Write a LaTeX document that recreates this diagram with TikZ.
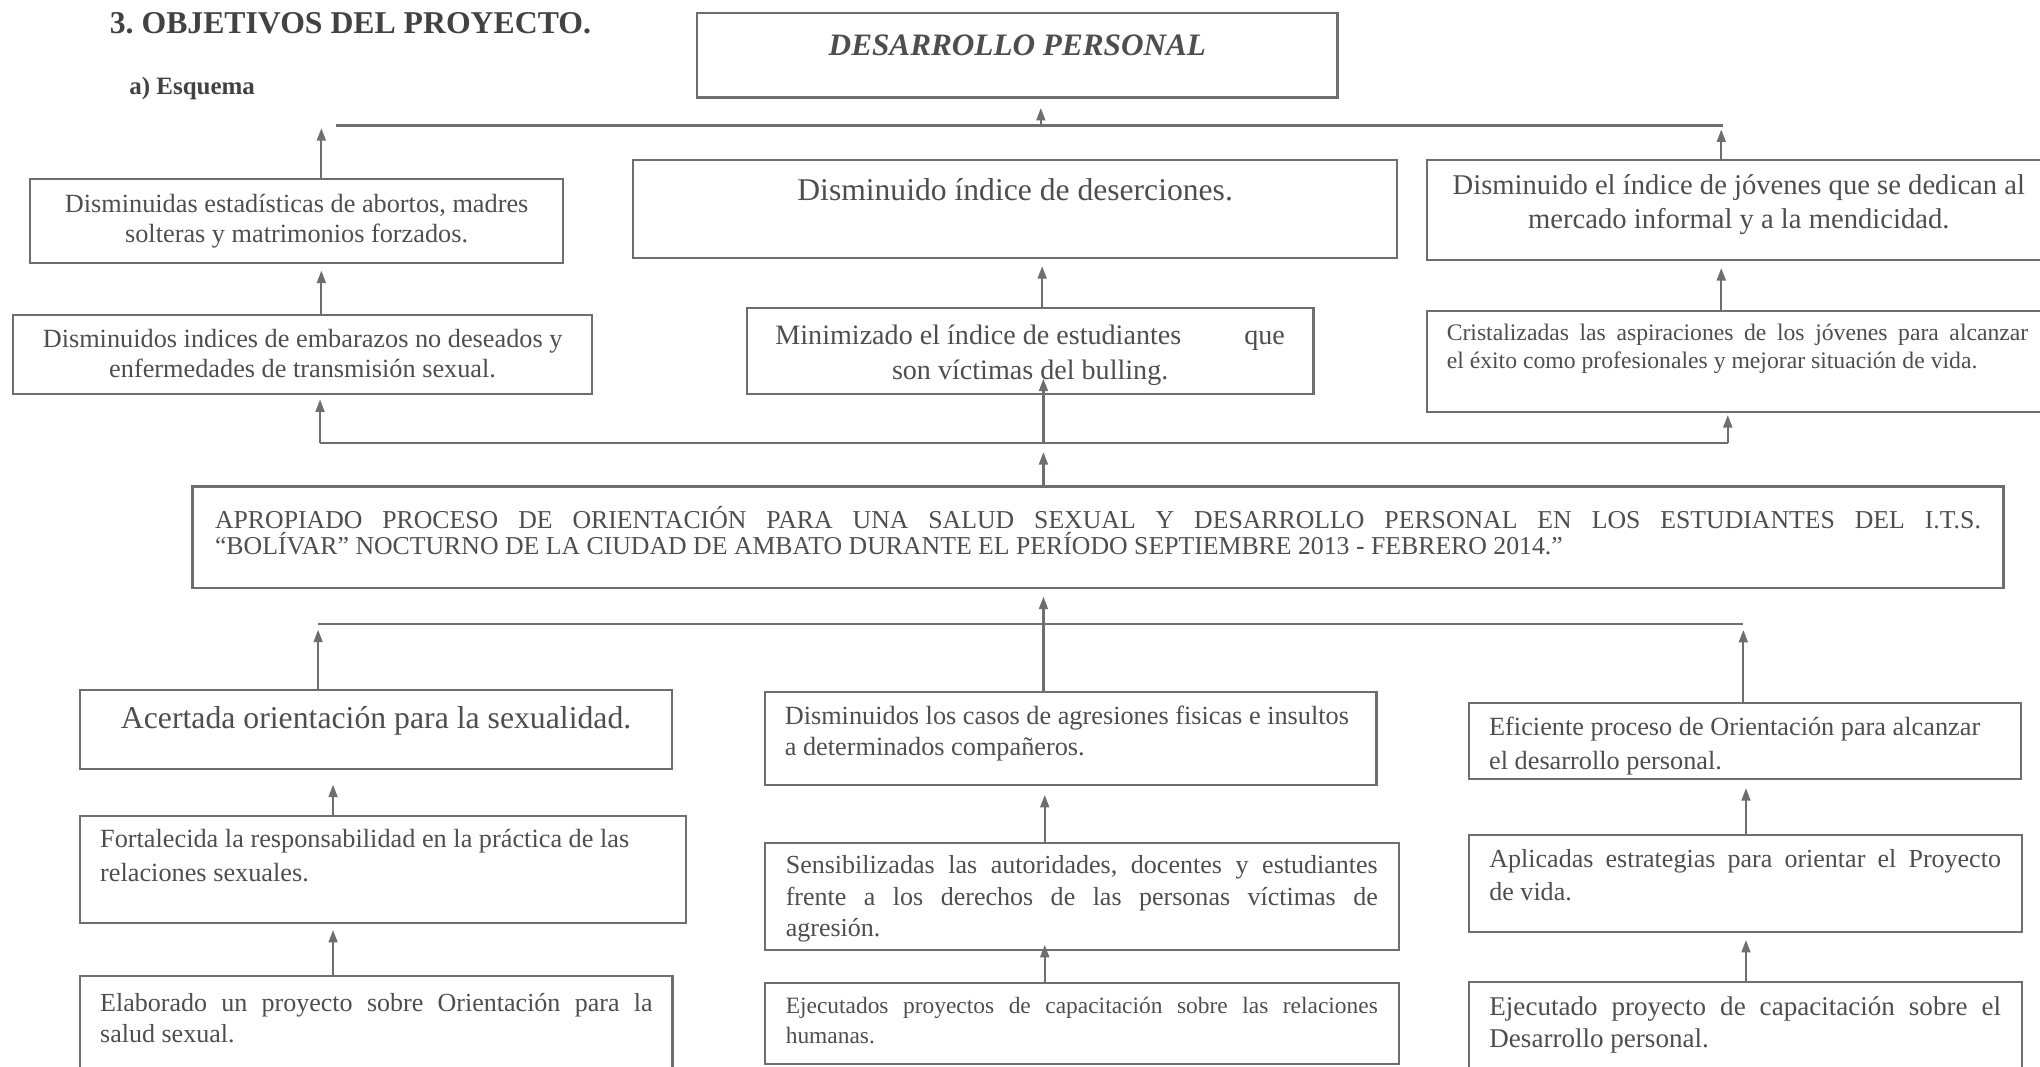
\documentclass[tikz,border=0pt]{standalone}
\usepackage{fontspec}
\setmainfont{Liberation Serif}
\usetikzlibrary{arrows.meta}
\definecolor{tinta}{HTML}{4E4E4E}
\definecolor{linea}{HTML}{6E6E6E}
\hyphenpenalty=10000
\exhyphenpenalty=10000
\frenchspacing

\tikzset{
  caja/.style={draw=linea, line width=0.85pt, anchor=north west,
    inner ysep=0pt, outer sep=0pt, text=tinta},
  rama/.style={draw=linea, line width=0.85pt},
  flecha/.style={rama, -{Triangle[length=4.8pt,width=3.4pt]}, shorten >=#1},
  flecha/.default=3pt
}

\begin{document}
\begin{tikzpicture}[x=0.5pt,y=-0.5pt]
\useasboundingbox (0,0) rectangle (1568,820);
\clip (0,0) rectangle (1568,820);

\node[anchor=base west, inner sep=0pt, text=tinta!85!black,
  font=\fontsize{12.2}{14}\selectfont\bfseries] (tit) at (84,26) {3. OBJETIVOS DEL PROYECTO.};
\node[anchor=base west, inner sep=0pt, text=tinta!85!black,
  font=\fontsize{9.6}{11}\selectfont\bfseries] (esq) at (99,73) {a) Esquema};

\node[caja, inner xsep=0pt] (dp) at (536,10)
  {\parbox[t][32.5pt][t]{246pt}{\centering\fontsize{12}{14}\selectfont\bfseries\itshape
   \rule{0pt}{16.25pt}DESARROLLO PERSONAL}};

\node[caja, inner xsep=5pt] (e1) at (23,137.6)
  {\parbox[t][32.2pt][t]{195pt}{\centering\fontsize{10.1}{11.8}\selectfont
   \rule{0pt}{12.7pt}Disminuidas estadísticas de abortos, madres\\ solteras y matrimonios forzados.}};
\node[caja, inner xsep=0pt] (e2) at (486.5,123)
  {\parbox[t][37.8pt][t]{293.75pt}{\centering\fontsize{12.15}{14}\selectfont
   \rule{0pt}{15.5pt}Disminuido índice de deserciones.}};
\node[caja, inner xsep=8.5pt] (e3) at (1097,123)
  {\parbox[t][38.5pt][t]{222.5pt}{\centering\fontsize{11}{12.8}\selectfont
   \rule{0pt}{13.4pt}Disminuido el índice de jóvenes que se dedican al\\ mercado informal y a la mendicidad.}};

\node[caja, inner xsep=5pt] (e4) at (10.2,242)
  {\parbox[t][30.5pt][t]{212.4pt}{\centering\fontsize{10.1}{11.5}\selectfont
   \rule{0pt}{12.5pt}Disminuidos indices de embarazos no deseados y\\ enfermedades de transmisión sexual.}};
\node[caja, inner xsep=11pt] (e5) at (574,237)
  {\parbox[t][33pt][t]{195.8pt}{\fontsize{10.8}{13.5}\selectfont
   \rule{0pt}{14pt}Minimizado el índice de estudiantes\hfill que\\ \null\hfil son víctimas del bulling.}};
\node[caja, inner xsep=7.5pt] (e6) at (1097,238.8)
  {\parbox[t][38.8pt][t]{223.5pt}{\fontsize{9.1}{10.9}\selectfont
   \rule{0pt}{11.5pt}Cristalizadas las aspiraciones de los jóvenes para alcanzar\linebreak
   el éxito como profesionales y mejorar situación de vida.}};

\node[caja, inner xsep=8.65pt] (prop) at (148,374)
  {\parbox[t][39.1pt][t]{678.7pt}{\fontsize{9.9}{10}\selectfont
   \rule{0pt}{16pt}APROPIADO PROCESO DE ORIENTACIÓN PARA UNA SALUD SEXUAL Y DESARROLLO PERSONAL EN LOS ESTUDIANTES DEL I.T.S.\linebreak
   “BOLÍVAR” NOCTURNO DE LA CIUDAD DE AMBATO DURANTE EL PERÍODO SEPTIEMBRE 2013 - FEBRERO 2014.”}};

\node[caja, inner xsep=0pt] (c1) at (61.7,530.4)
  {\parbox[t][30.35pt][t]{227.4pt}{\centering\fontsize{12.2}{14}\selectfont
   \rule{0pt}{14.8pt}Acertada orientación para la sexualidad.}};
\node[caja, inner xsep=7.6pt] (c2) at (588,531.7)
  {\parbox[t][35.85pt][t]{219.8pt}{\raggedright\fontsize{10.1}{12}\selectfont
   \rule{0pt}{12.5pt}Disminuidos los casos de agresiones fisicas e insultos\\ a determinados compañeros.}};
\node[caja, inner xsep=7.9pt] (c3) at (1128.8,540.6)
  {\parbox[t][29.2pt][t]{196.55pt}{\raggedright\fontsize{10.1}{12.8}\selectfont
   \rule{0pt}{12.5pt}Eficiente proceso de Orientación para alcanzar\\ el desarrollo personal.}};

\node[caja, inner xsep=7.65pt] (c4) at (61.7,627.2)
  {\parbox[t][41pt][t]{217.55pt}{\raggedright\fontsize{10.1}{12.8}\selectfont
   \rule{0pt}{12.2pt}Fortalecida la responsabilidad en la práctica de las\\ relaciones sexuales.}};
\node[caja, inner xsep=8pt] (c5) at (588,647.7)
  {\parbox[t][41.25pt][t]{227.5pt}{\fontsize{10}{12}\selectfont
   \rule{0pt}{12pt}Sensibilizadas las autoridades, docentes y estudiantes\linebreak
   frente a los derechos de las personas víctimas de\linebreak agresión.}};
\node[caja, inner xsep=8pt] (c6) at (1128.8,641.8)
  {\parbox[t][37.15pt][t]{196.6pt}{\fontsize{10}{12.8}\selectfont
   \rule{0pt}{12.5pt}Aplicadas estrategias para orientar el Proyecto\linebreak de vida.}};

\node[caja, inner xsep=7.65pt] (a1) at (61.7,750.2)
  {\parbox[t][42pt][t]{212.3pt}{\fontsize{10}{12.2}\selectfont
   \rule{0pt}{13.5pt}Elaborado un proyecto sobre Orientación para la\linebreak salud sexual.}};
\node[caja, inner xsep=8pt] (a2) at (588,755.3)
  {\parbox[t][31.35pt][t]{227.5pt}{\fontsize{9}{11.5}\selectfont
   \rule{0pt}{11.9pt}Ejecutados proyectos de capacitación sobre las relaciones\linebreak humanas.}};
\node[caja, inner xsep=8pt] (a3) at (1128.8,754.5)
  {\parbox[t][42pt][t]{196.6pt}{\fontsize{10.4}{12.2}\selectfont
   \rule{0pt}{13pt}Ejecutado proyecto de capacitación sobre el\linebreak Desarrollo personal.}};

\coordinate (xl) at (247,0);
\coordinate (xm) at (801,0);
\coordinate (xr) at (1323,0);
\coordinate (xbl) at (256,0);
\coordinate (xbm) at (803,0);
\coordinate (xbr) at (1342,0);

\coordinate (sup) at (800,96.5);
\coordinate (supi) at (258,96.5);
\coordinate (supd) at (1324,96.5);
\draw[rama] (supi) -- (supd);
\draw[flecha=4pt] (sup) -- (dp.south -| sup);
\draw[flecha=1pt] (e1.north -| xl) -- (supi -| xl);
\draw[flecha=1.5pt] (e3.north -| xr) -- (supd -| xr);

\draw[flecha] (e4.north -| xl) -- (e1.south -| xl);
\draw[flecha] (e5.north -| xm) -- (e2.south -| xm);
\draw[flecha] (e6.north -| xr) -- (e3.south -| xr);

\coordinate (ram) at (802,340.5);
\coordinate (rami) at (246,340.5);
\coordinate (ramd) at (1328,340.5);
\draw[rama] (rami) -- (ramd);
\draw[flecha=3.5pt] (prop.north -| ram) -- (ram);
\draw[flecha=-6pt] (ram) -- (e5.south -| ram);
\draw[flecha=2pt] (rami) -- (e4.south -| rami);
\draw[flecha=1.3pt] (ramd) -- (e6.south -| ramd);

\coordinate (baj) at (802,479.6);
\coordinate (baji) at (244.5,479.6);
\coordinate (bajd) at (1340,479.6);
\draw[rama] (baji) -- (bajd);
\draw[flecha=3.2pt] (c2.north -| baj) -- (prop.south -| baj);
\draw[flecha=2.2pt] (c1.north -| baji) -- (baji);
\draw[flecha=2.3pt] (c3.north -| bajd) -- (bajd);

\draw[flecha=6pt] (c4.north -| xbl) -- (c1.south -| xbl);
\draw[flecha=3.8pt] (c5.north -| xbm) -- (c2.south -| xbm);
\draw[flecha=3.4pt] (c6.north -| xbr) -- (c3.south -| xbr);
\draw[flecha=2.8pt] (a1.north -| xbl) -- (c4.south -| xbl);
\draw[flecha=-2pt] (a2.north -| xbm) -- (c5.south -| xbm);
\draw[flecha=3.2pt] (a3.north -| xbr) -- (c6.south -| xbr);
\end{tikzpicture}
\end{document}
